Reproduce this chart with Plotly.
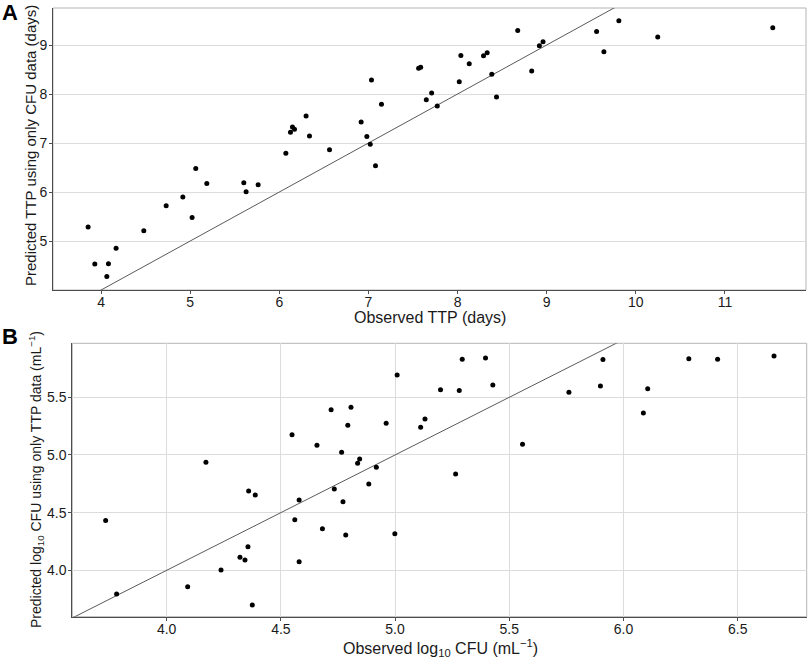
import plotly.graph_objects as go

# Panel A: observed TTP vs predicted TTP (days)
a_obs = [3.854, 3.929, 4.064, 4.082, 4.168, 4.479, 4.73, 4.917, 5.021, 5.062,
         5.186, 5.601, 5.627, 5.762, 6.073, 6.125, 6.147, 6.17, 6.30, 6.338,
         6.563, 6.918, 6.982, 7.02, 7.034, 7.079, 7.146,
         7.563, 7.586, 7.649, 7.709, 7.772, 8.019, 8.037, 8.131, 8.291, 8.332,
         8.384, 8.437, 8.675, 8.832, 8.918, 8.959, 9.56, 9.642, 9.81, 10.246, 11.537]
a_pred = [5.285, 4.532, 4.274, 4.538, 4.851, 5.21, 5.72, 5.896, 5.482, 6.48,
          6.174, 6.188, 6.005, 6.147, 6.792, 7.22, 7.329, 7.28, 7.553, 7.145,
          6.86, 7.43, 7.132, 6.976, 8.286, 6.534, 7.79,
          8.523, 8.544, 7.885, 8.021, 7.756, 8.252, 8.788, 8.618, 8.781, 8.843,
          8.401, 7.94, 9.297, 8.469, 8.985, 9.067, 9.277, 8.863, 9.494, 9.162, 9.352]

# Panel B: observed vs predicted log10 CFU (mL^-1)
b_obs = [3.733, 3.781, 4.092, 4.172, 4.238, 4.321, 4.343, 4.356, 4.359, 4.375,
         4.388, 4.549, 4.561, 4.58, 4.58, 4.658, 4.682, 4.72, 4.734, 4.766,
         4.772, 4.784, 4.793, 4.807, 4.836, 4.845, 4.885, 4.918, 4.961, 4.999,
         5.009, 5.112, 5.131, 5.199, 5.265, 5.281, 5.294, 5.396, 5.428, 5.558,
         5.761, 5.899, 5.91, 6.087, 6.106, 6.286, 6.412, 6.659]
b_pred = [4.431, 3.795, 3.858, 4.936, 4.003, 4.113, 4.09, 4.205, 4.688, 3.699,
          4.653, 5.176, 4.439, 4.61, 4.075, 5.084, 4.361, 5.393, 4.705, 5.023,
          4.595, 4.306, 5.257, 5.413, 4.928, 4.965, 4.749, 4.893, 5.275, 4.318,
          5.694, 5.24, 5.312, 5.566, 4.835, 5.558, 5.829, 5.841, 5.607, 5.092,
          5.543, 5.598, 5.827, 5.364, 5.575, 5.835, 5.829, 5.858]

a_xrange = [3.46, 11.91]
a_yrange = [4.0, 9.755]
b_xrange = [3.587, 6.802]
b_yrange = [3.598, 5.968]
a_line = [3.0, 12.5]
b_line = [3.0, 7.0]

W, H = 809, 659
FONT = "Liberation Sans, Arial, sans-serif"

def px_x(p):
    return p / W

def px_y(p):
    return 1 - p / H

fig = go.Figure()

fig.add_trace(go.Scatter(x=a_line, y=a_line, mode="lines",
                         line=dict(color="#5a5a5a", width=1), xaxis="x", yaxis="y",
                         hoverinfo="skip"))
fig.add_trace(go.Scatter(x=a_obs, y=a_pred, mode="markers",
                         marker=dict(color="black", size=5), xaxis="x", yaxis="y"))
fig.add_trace(go.Scatter(x=b_line, y=b_line, mode="lines",
                         line=dict(color="#5a5a5a", width=1), xaxis="x2", yaxis="y2",
                         hoverinfo="skip"))
fig.add_trace(go.Scatter(x=b_obs, y=b_pred, mode="markers",
                         marker=dict(color="black", size=5), xaxis="x2", yaxis="y2"))

axis_common = dict(showline=True, linecolor="#4d4d4d", linewidth=1, mirror=False,
                   ticks="outside", ticklen=3, tickcolor="#4d4d4d", automargin=False,
                   tickfont=dict(family=FONT, size=14, color="#1a1a1a"),
                   zeroline=False, gridcolor="#dcdcdc", gridwidth=1)

A_dom_x = [px_x(53), px_x(806)]
A_dom_y = [px_y(290), px_y(8)]
B_dom_x = [px_x(72.3), px_x(806.7)]
B_dom_y = [px_y(616.7), px_y(343.3)]

fig.update_layout(
    width=W, height=H,
    margin=dict(l=0, r=0, t=0, b=0, pad=0),
    paper_bgcolor="white", plot_bgcolor="white",
    showlegend=False,
    font=dict(family=FONT, color="#1a1a1a"),
    xaxis=dict(domain=A_dom_x, range=a_xrange, anchor="y", ticklabelstandoff=-4,
               tickvals=[4, 5, 6, 7, 8, 9, 10, 11], showgrid=False, **axis_common),
    yaxis=dict(domain=A_dom_y, range=a_yrange, anchor="x", ticklabelstandoff=-1,
               tickvals=[5, 6, 7, 8, 9], showgrid=True, **axis_common),
    xaxis2=dict(domain=B_dom_x, range=b_xrange, anchor="y2", ticklabelstandoff=-4,
                tickvals=[4.0, 4.5, 5.0, 5.5, 6.0, 6.5], tickformat=".1f", showgrid=True,
                **axis_common),
    yaxis2=dict(domain=B_dom_y, range=b_yrange, anchor="x2", ticklabelstandoff=-1,
                tickvals=[4.0, 4.5, 5.0, 5.5], tickformat=".1f", showgrid=True,
                **axis_common),
)

# light border on top/right of each panel
for (dx, dy) in [(A_dom_x, A_dom_y), (B_dom_x, B_dom_y)]:
    fig.add_shape(type="rect", xref="paper", yref="paper", x0=dx[0], x1=dx[1], y0=dy[0], y1=dy[1],
                  line=dict(color="#b4b4b4", width=1), layer="below")

def label(text, x, y, size, angle=0, bold=False):
    fig.add_annotation(text=f"<b>{text}</b>" if bold else text, xref="paper", yref="paper",
                       x=px_x(x), y=px_y(y), xanchor="center", yanchor="middle",
                       showarrow=False, textangle=angle,
                       font=dict(family=FONT, size=size, color="#1a1a1a" if not bold else "black"))

label("A", 10, 13, 22, bold=True)
label("B", 10, 336, 22, bold=True)
label("Observed TTP (days)", 430, 317, 16)
label("Observed log<sub>10</sub> CFU (mL<sup>−1</sup>)", 440, 648, 16)
label("Predicted TTP using only CFU data (days)", 31, 146, 15, angle=-90)
label("Predicted log<sub>10</sub> CFU using only TTP data (mL<sup>−1</sup>)", 36, 480, 14, angle=-90)

fig.write_html("out.html", config={"displayModeBar": False},
               post_script="document.body.style.margin='0px';document.body.style.overflow='hidden';")
